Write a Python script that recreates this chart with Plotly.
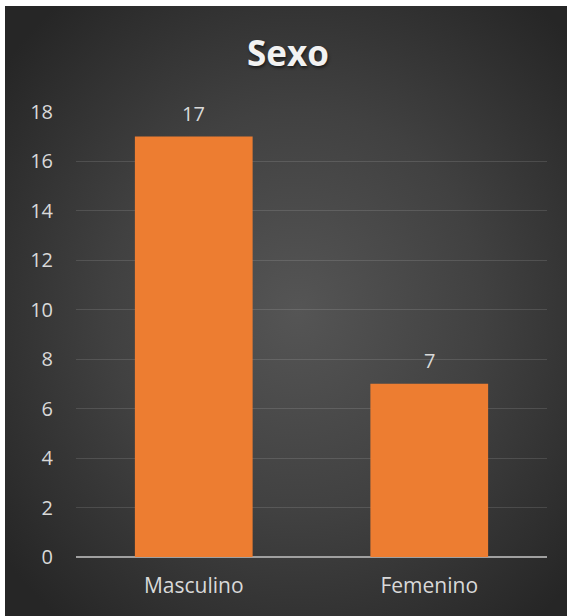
import base64

import plotly.graph_objects as go

categories = ["Masculino", "Femenino"]
counts = [17, 7]
y_ticks = list(range(0, 19, 2))

BAR_ORANGE = "#ED7D31"
LABEL_GREY = "#D9D9D9"
GRID_GREY = "rgba(255,255,255,0.12)"
AXIS_GREY = "#A0A0A0"
FONT = "Open Sans, Noto Sans, sans-serif"

W, H = 567, 616
L, R, T, B = 76, 20, 111, 59

# radial dark background, drawn as an svg under the plot
svg = (
    '<svg xmlns="http://www.w3.org/2000/svg" width="562" height="610">'
    '<defs><radialGradient id="g" cx="52%" cy="50%" r="66%">'
    '<stop offset="0%" stop-color="#555555"/>'
    '<stop offset="50%" stop-color="#414141"/>'
    '<stop offset="100%" stop-color="#262626"/>'
    "</radialGradient></defs>"
    '<rect width="562" height="610" fill="url(#g)"/></svg>'
)
bg_src = "data:image/svg+xml;base64," + base64.b64encode(svg.encode()).decode()

pw, ph = W - L - R, H - T - B

fig = go.Figure()
fig.add_trace(
    go.Bar(
        x=categories,
        y=counts,
        width=0.5,
        marker={"color": BAR_ORANGE, "line": {"width": 0}},
        hoverinfo="skip",
    )
)

for cat, val in zip(categories, counts):
    fig.add_annotation(
        x=cat,
        y=val,
        text=str(val),
        showarrow=False,
        yanchor="middle",
        yshift=23,
        font={"family": FONT, "size": 20, "color": LABEL_GREY},
    )

fig.add_layout_image(
    source=bg_src,
    xref="paper",
    yref="paper",
    x=(5 - L) / pw,
    y=(H - B - 6) / ph,
    sizex=(W - 5) / pw,
    sizey=(H - 6) / ph,
    xanchor="left",
    yanchor="top",
    sizing="stretch",
    layer="below",
)

fig.update_layout(
    width=W,
    height=H,
    autosize=False,
    margin={"l": L, "r": R, "t": T, "b": B, "pad": 0},
    paper_bgcolor="white",
    plot_bgcolor="rgba(0,0,0,0)",
    showlegend=False,
    title={
        "text": "Sexo",
        "x": 288 / W,
        "xanchor": "center",
        "y": 1 - 54 / H,
        "yanchor": "middle",
        "xref": "container",
        "yref": "container",
        "font": {
            "family": FONT,
            "size": 35,
            "color": "#F2F2F2",
            "weight": "bold",
            "shadow": "1px 2px 3px rgba(0,0,0,0.55)",
        },
    },
    font={"family": FONT, "color": LABEL_GREY},
)
fig.update_xaxes(
    showgrid=False,
    showline=False,
    ticks="",
    tickfont={"size": 21, "color": LABEL_GREY},
    ticklabelstandoff=14,
)
# a hair above 18 so the top gridline is still drawn
fig.update_yaxes(
    range=[0, 18.03],
    tickvals=y_ticks,
    showgrid=True,
    gridcolor=GRID_GREY,
    gridwidth=1,
    zeroline=True,
    zerolinecolor=AXIS_GREY,
    zerolinewidth=2,
    showline=False,
    ticks="",
    tickfont={"size": 20, "color": LABEL_GREY},
    ticklabelstandoff=22,
)

# page body has a default 8px margin; drop it so the chart sits at 0,0
fig.write_html(
    "out.html",
    config={"displayModeBar": False},
    post_script="document.body.style.margin='0';",
)
